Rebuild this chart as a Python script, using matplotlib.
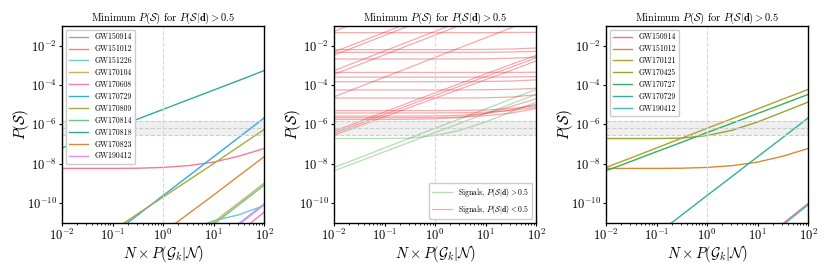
import numpy as np
import matplotlib
matplotlib.use("Agg")
import matplotlib.pyplot as plt

plt.rcParams["font.family"] = "cmr10"
plt.rcParams["mathtext.fontset"] = "cm"
plt.rcParams["axes.formatter.use_mathtext"] = True

# x sample points (half decades), y values as log10 P(S)
XS = [0.01, 0.0316, 0.1, 0.316, 1.0, 3.16, 10.0, 31.6, 100.0]

# band of the prior on P(S)
BAND_LO, BAND_MID, BAND_HI = 2.8e-7, 6.5e-7, 1.45e-6

# panel 1
ev1 = ["GW150914", "GW151012", "GW151226", "GW170104", "GW170608", "GW170729",
       "GW170809", "GW170814", "GW170818", "GW170823", "GW190412"]
col1 = ["#9d9cf5", "#f27a93", "#72c9c6", "#c9b561", "#f07ac8", "#3aa6df",
        "#9fae3f", "#6cc68a", "#2aaf94", "#e0883a", "#e08ff5"]
logp1 = [
    [-18.0, -17.0, -16.0, -15.0, -14.05, -13.05, -12.05, -11.05, -10.05],
    [-8.24, -8.24, -8.24, -8.23, -8.19, -8.1, -7.92, -7.62, -7.23],
    [-14.0, -13.4, -12.9, -12.4, -11.9, -11.4, -10.9, -10.6, -10.13],
    [-15.0, -14.4, -13.9, -13.4, -12.95, -11.97, -10.98, -9.99, -9.0],
    [-18.0, -17.0, -16.0, -15.0, -14.5, -13.5, -12.5, -11.5, -10.47],
    [-13.56, -12.58, -11.59, -10.61, -9.62, -8.64, -7.65, -6.67, -5.68],
    [-13.2, -12.3, -11.4, -10.55, -9.7, -8.85, -8.0, -7.13, -6.27],
    [-15.1, -14.5, -14.0, -13.5, -13.05, -12.07, -11.08, -10.09, -9.1],
    [-7.2, -6.71, -6.22, -5.73, -5.24, -4.75, -4.26, -3.77, -3.27],
    [-15.5, -14.5, -13.5, -12.5, -11.5, -10.55, -9.6, -8.62, -7.65],
    [-18.1, -17.1, -16.1, -15.1, -14.1, -13.1, -12.1, -11.1, -10.1],
]

# panel 2
logp_green = [
    [-8.19, -7.7, -7.2, -6.7, -6.2, -5.71, -5.22, -4.72, -4.23],
    [-6.72, -6.72, -6.72, -6.7, -6.57, -6.3, -5.88, -5.38, -4.87],
    [-8.36, -7.88, -7.39, -6.91, -6.42, -5.94, -5.45, -4.97, -4.48],
]
logp_red = [
    [-1.28, -0.78, -0.28, 0.22, 0.72, 1.22, 1.72, 2.22, 2.72],
    [-1.34, -1.34, -1.34, -1.34, -1.34, -1.34, -1.34, -1.33, -1.32],
    [-2.2, -2.2, -2.2, -2.2, -2.2, -2.2, -2.19, -2.17, -2.12],
    [-2.32, -1.82, -1.32, -0.82, -0.32, 0.18, 0.68, 1.18, 1.68],
    [-2.34, -2.34, -2.34, -2.34, -2.34, -2.34, -2.33, -2.32, -2.29],
    [-2.48, -1.98, -1.48, -0.98, -0.48, 0.02, 0.52, 1.02, 1.52],
    [-2.68, -2.68, -2.68, -2.68, -2.68, -2.68, -2.67, -2.64, -2.58],
    [-3.27, -2.77, -2.27, -1.77, -1.27, -0.77, -0.27, 0.23, 0.73],
    [-3.36, -3.36, -3.36, -3.36, -3.36, -3.36, -3.36, -3.36, -3.35],
    [-3.46, -2.96, -2.46, -1.96, -1.46, -0.96, -0.46, 0.04, 0.54],
    [-3.6, -3.6, -3.6, -3.6, -3.6, -3.6, -3.6, -3.59, -3.57],
    [-3.83, -3.83, -3.83, -3.83, -3.83, -3.83, -3.82, -3.8, -3.74],
    [-4.25, -4.25, -4.25, -4.25, -4.25, -4.25, -4.24, -4.22, -4.17],
    [-4.6, -4.1, -3.6, -3.1, -2.6, -2.1, -1.6, -1.1, -0.6],
    [-4.66, -4.66, -4.66, -4.66, -4.66, -4.66, -4.65, -4.61, -4.5],
    [-5.3, -5.3, -5.3, -5.3, -5.3, -5.29, -5.27, -5.2, -5.05],
    [-5.42, -5.42, -5.42, -5.42, -5.42, -5.41, -5.38, -5.3, -5.13],
    [-5.58, -5.58, -5.58, -5.58, -5.57, -5.54, -5.45, -5.27, -4.98],
    [-5.66, -5.66, -5.66, -5.66, -5.65, -5.63, -5.56, -5.43, -5.2],
    [-5.75, -5.75, -5.75, -5.74, -5.72, -5.65, -5.45, -5.1, -4.7],
    [-6.35, -5.86, -5.37, -4.88, -4.4, -3.92, -3.44, -2.96, -2.5],
    [-6.45, -5.97, -5.49, -5.01, -4.53, -4.05, -3.57, -3.1, -2.62],
    [-6.55, -6.08, -5.61, -5.14, -4.67, -4.2, -3.73, -3.26, -2.78],
]

# panel 3
ev3 = ["GW150914", "GW151012", "GW170121", "GW170425", "GW170727", "GW170729", "GW190412"]
col3 = ["#f77189", "#dc8932", "#b89d31", "#97a431", "#35b060", "#34ae98", "#4ab5c8"]
logp3 = [
    [-18.0, -17.0, -16.0, -15.0, -14.0, -13.0, -12.0, -11.05, -10.03],
    [-8.24, -8.24, -8.24, -8.23, -8.19, -8.1, -7.92, -7.62, -7.23],
    [-8.19, -7.7, -7.2, -6.7, -6.2, -5.71, -5.22, -4.72, -4.23],
    [-6.72, -6.72, -6.72, -6.7, -6.57, -6.3, -5.88, -5.38, -4.87],
    [-8.36, -7.88, -7.39, -6.91, -6.42, -5.94, -5.45, -4.97, -4.48],
    [-13.56, -12.58, -11.59, -10.61, -9.62, -8.64, -7.65, -6.67, -5.68],
    [-18.1, -17.1, -16.1, -15.1, -14.1, -13.1, -12.1, -11.12, -10.1],
]

TITLE = r"Minimum $P(\mathcal{S})$ for $P(\mathcal{S}|\mathbf{d}) > 0.5$"


def decorate(ax):
    ax.set_xscale("log")
    ax.set_yscale("log")
    ax.set_xlim(1e-2, 1e2)
    ax.set_ylim(1e-11, 1e-1)
    ax.set_yticks([1e-10, 1e-8, 1e-6, 1e-4, 1e-2])
    ax.axhspan(BAND_LO, BAND_HI, color="0.5", alpha=0.12, lw=0)
    for v in (BAND_LO, BAND_MID, BAND_HI):
        ax.axhline(v, color="0.8", ls="--", lw=0.8)
    ax.axvline(1.0, color="0.85", ls="--", lw=0.8)
    ax.set_title(TITLE, fontsize=7.5, pad=2)
    ax.set_xlabel(r"$N \times P(\mathcal{G}_k|\mathcal{N})$", fontsize=10.5, labelpad=0)
    ax.set_ylabel(r"$P(\mathcal{S})$", fontsize=11, labelpad=-3)
    ax.tick_params(labelsize=9, pad=1)
    ax.tick_params(which="major", length=2.5)
    ax.tick_params(which="minor", length=1.5)
    for s in ax.spines.values():
        s.set_linewidth(1.0)


fig = plt.figure(figsize=(8.3, 2.7), dpi=100)
W, H = 830, 270
axes = [fig.add_axes([l / W, 1 - 222.7 / H, 202 / W, (222.7 - 26) / H]) for l in (62, 334, 606)]

ax = axes[0]
for name, c, lp in zip(ev1, col1, logp1):
    ax.plot(XS, 10 ** np.array(lp), color=c, lw=1, label=name)
decorate(ax)
ax.legend(loc="upper left", fontsize=5.6, framealpha=1, handlelength=2.5, labelspacing=0.45)

ax = axes[1]
for i, lp in enumerate(logp_green):
    ax.plot(XS, 10 ** np.array(lp), color="#2ca02c", alpha=0.35, lw=0.9,
            label=r"Signals, $P(\mathcal{S}|\mathbf{d}) > 0.5$" if i == 0 else None)
for i, lp in enumerate(logp_red):
    ax.plot(XS, 10 ** np.array(lp), color="#e8353f", alpha=0.42, lw=0.9,
            label=r"Signals, $P(\mathcal{S}|\mathbf{d}) < 0.5$" if i == 0 else None)
decorate(ax)
ax.legend(loc="lower right", fontsize=5.6, framealpha=1, handlelength=2.5)

ax = axes[2]
for name, c, lp in zip(ev3, col3, logp3):
    ax.plot(XS, 10 ** np.array(lp), color=c, lw=1, label=name)
decorate(ax)
ax.legend(loc="upper left", fontsize=5.6, framealpha=1, handlelength=2.5, labelspacing=0.45)

fig.savefig("out.png", dpi=100)
